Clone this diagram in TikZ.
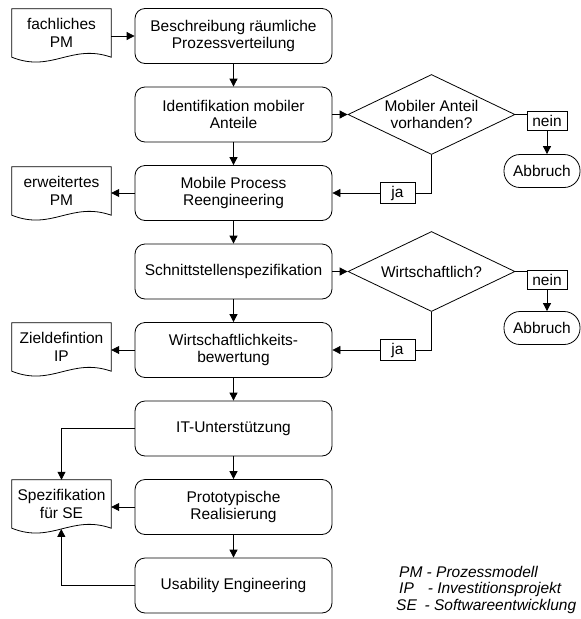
\documentclass[tikz,border=0pt]{standalone}
\usepackage{fontspec}
\setmainfont{Liberation Sans}
\usetikzlibrary{arrows.meta,shapes.geometric,calc}
\begin{document}
\begin{tikzpicture}[x=1pt,y=-1pt, font=\fontsize{15.5}{17.5}\selectfont,
  proc/.style={draw, rounded corners=10pt, minimum width=197pt, minimum height=55pt, align=center, inner sep=2pt, line width=0.8pt},
  doc/.style={minimum width=99pt, minimum height=48pt, align=center, inner sep=0pt},
  dec/.style={draw, diamond, aspect=2.09, minimum width=167pt, minimum height=80pt, inner sep=0pt, align=center, line width=0.8pt},
  lab/.style={draw, minimum width=40pt, minimum height=19pt, inner sep=0pt, line width=0.8pt},
  jalab/.style={draw, minimum width=35pt, minimum height=21pt, inner sep=0pt, line width=0.8pt},
  term/.style={draw, rounded corners=16pt, minimum width=76pt, minimum height=33pt, inner sep=0pt, line width=0.8pt},
  arr/.style={-{Triangle[length=8pt,width=8pt]}, line width=0.8pt},
  ln/.style={line width=0.8pt},
  leg/.style={anchor=base west, inner sep=0pt, font=\fontsize{15.5}{17.5}\selectfont\itshape}]
\useasboundingbox (0,0) rectangle (581,619);
% process boxes
\node[proc] (b1) at (233.5,36) {Beschreibung räumliche\\Prozessverteilung};
\node[proc] (b2) at (233.5,114.5) {Identifikation mobiler\\Anteile};
\node[proc] (b3) at (233.5,193) {Mobile Process\\Reengineering};
\node[proc] (b4) at (233.5,271.5) {Schnittstellenspezifikation};
\node[proc] (b5) at (233.5,350) {Wirtschaftlichkeits-\\bewertung};
\node[proc] (b6) at (233.5,428.5) {IT-Unterstützung};
\node[proc] (b7) at (233.5,507) {Prototypische\\Realisierung};
\node[proc] (b8) at (233.5,585.5) {Usability Engineering};
% documents
\node[doc] (d1) at (61.5,33) {fachliches\\PM};
\node[doc] (d2) at (61.5,191) {erweitertes\\PM};
\node[doc] (d3) at (61.5,347) {Zieldefintion\\IP};
\node[doc] (d4) at (61.5,504) {Spezifikation\\für SE};
\foreach \d in {d1,d2,d3,d4}
  \draw[ln] (\d.south west) -- (\d.north west) -- (\d.north east) -- (\d.south east)
    .. controls +(-40,-14) and +(40,16) .. (\d.south west) -- cycle;
\coordinate (d4w) at ($(d4.south west)+(49.5,0.75)$);
% decisions
\node[dec] (m1) at (431.5,114.5) {Mobiler Anteil\\vorhanden?};
\node[dec] (m2) at (431.5,271.5) {Wirtschaftlich?};
\node[lab] (n1) at (547,120.5) {nein};
\node[lab] (n2) at (547,280) {nein};
\node[term] (a1) at (542,171) {Abbruch};
\node[term] (a2) at (542,328) {Abbruch};
\node[jalab] (j1) at (397.5,193) {ja};
\node[jalab] (j2) at (397.5,350) {ja};
% connectors
\draw[arr] (b1.west -| d1.east) -- (b1.west);
\draw[arr] (b1.south) -- (b2.north);
\draw[arr] (b2.east) -- (m1.west);
\draw[ln] (m1.east) -- (m1.east -| n1.west);
\draw[arr] (n1.south) -- (n1.south |- a1.north);
\draw[ln] (m1.south) |- (j1.east);
\draw[arr] (j1.west) -- (b3.east);
\draw[arr] (b2.south) -- (b3.north);
\draw[arr] (b3.west) -- (b3.west -| d2.east);
\draw[arr] (b3.south) -- (b4.north);
\draw[arr] (b4.east) -- (m2.west);
\draw[ln] (m2.east) -- (m2.east -| n2.west);
\draw[arr] (n2.south) -- (n2.south |- a2.north);
\draw[ln] (m2.south) |- (j2.east);
\draw[arr] (j2.west) -- (b5.east);
\draw[arr] (b4.south) -- (b5.north);
\draw[arr] (b5.west) -- (b5.west -| d3.east);
\draw[arr] (b5.south) -- (b6.north);
\draw[arr] (b6.west) -| (d4.north);
\draw[arr] (b6.south) -- (b7.north);
\draw[arr] (b7.west) -- (b7.west -| d4.east);
\draw[arr] (b7.south) -- (b8.north);
\draw[arr] (b8.west) -| (d4w);
% legend
\node[leg] (l1) at (399,577) {PM - Prozessmodell};
\node[leg] (l2) at (399,593.5) {IP\hspace{0.9em}- Investitionsprojekt};
\node[leg] (l3) at (396,610) {SE\hspace{0.5em}- Softwareentwicklung};
\end{tikzpicture}
\end{document}
